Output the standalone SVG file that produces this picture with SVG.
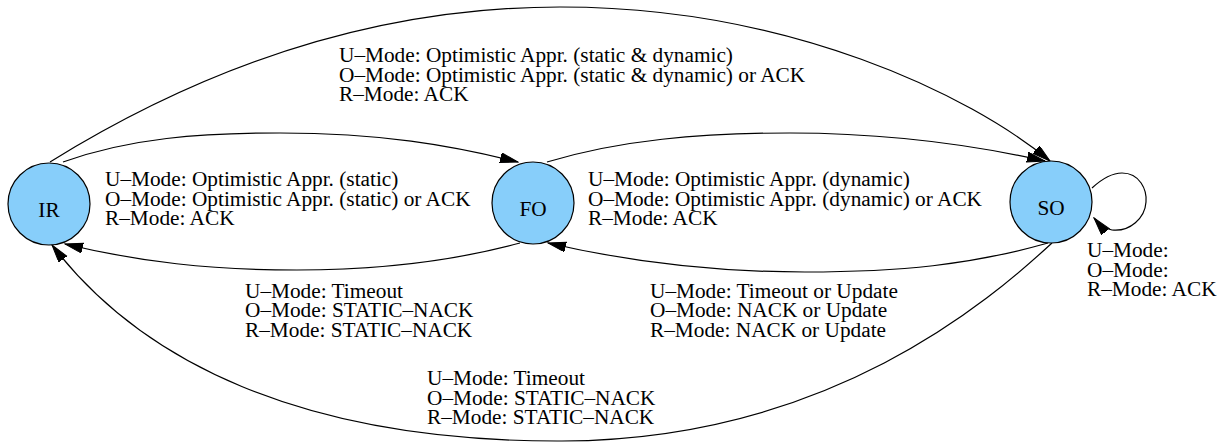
<svg xmlns="http://www.w3.org/2000/svg" width="1221" height="445" viewBox="0 0 1221 445" font-family="'Liberation Serif', 'DejaVu Serif', serif">
<style>
text, tspan { font-family: "Liberation Serif", "DejaVu Serif", serif; font-size: 21.3px; fill: #000; }
.node circle { fill: #87cefa; stroke: #000; stroke-width: 1.2; }
.node text { text-anchor: middle; }
.edge { fill: none; stroke: #000; stroke-width: 1.2; marker-end: url(#arr); }
</style>
<defs>
<marker id="arr" markerUnits="userSpaceOnUse" markerWidth="19" markerHeight="11" refX="18" refY="5" orient="auto" viewBox="0 0 19 11">
<path d="M0,0 L18,5 L0,10 z" fill="#000" stroke="#000" stroke-width="1"/>
</marker>
</defs>
<g id="connectors">
<path class="edge" d="M 50,162 C 150,100 330,7 560,7 C 790,7 970,95 1050,161"/>
<path class="edge" d="M 63,162 C 130,138 200,133 280,133 C 380,133 450,145 518,162"/>
<path class="edge" d="M 547,162 C 620,140 700,133 790,133 C 880,133 960,142 1045,161"/>
<path class="edge" d="M 520,243 C 450,262 380,270 297,270 C 210,270 140,262 65,244"/>
<path class="edge" d="M 1048,243 C 970,265 900,272 805,272 C 710,272 630,262 548,243"/>
<path class="edge" d="M 1052,243 C 990,300 830,440 562,441 C 300,442 140,360 52,245"/>
<path class="edge" d="M 1092,188 C 1105,176 1115,173 1122,173 C 1140,173 1147,190 1146,202 C 1145,218 1130,232 1112,230 C 1105,229 1099,224 1094,218"/>
</g>
<g id="labels">
<text x="339"><tspan x="339" y="62">U–Mode: Optimistic Appr. (static &amp; dynamic)</tspan><tspan x="339" y="81.6">O–Mode: Optimistic Appr. (static &amp; dynamic) or ACK</tspan><tspan x="339" y="101.2">R–Mode: ACK</tspan></text>
<text x="105"><tspan x="105" y="186">U–Mode: Optimistic Appr. (static)</tspan><tspan x="105" y="205.6">O–Mode: Optimistic Appr. (static) or ACK</tspan><tspan x="105" y="225.2">R–Mode: ACK</tspan></text>
<text x="588"><tspan x="588" y="186">U–Mode: Optimistic Appr. (dynamic)</tspan><tspan x="588" y="205.6">O–Mode: Optimistic Appr. (dynamic) or ACK</tspan><tspan x="588" y="225.2">R–Mode: ACK</tspan></text>
<text x="245"><tspan x="245" y="297.5">U–Mode: Timeout</tspan><tspan x="245" y="317.1">O–Mode: STATIC–NACK</tspan><tspan x="245" y="336.7">R–Mode: STATIC–NACK</tspan></text>
<text x="650"><tspan x="650" y="297.5">U–Mode: Timeout or Update</tspan><tspan x="650" y="317.1">O–Mode: NACK or Update</tspan><tspan x="650" y="336.7">R–Mode: NACK or Update</tspan></text>
<text x="427"><tspan x="427" y="385">U–Mode: Timeout</tspan><tspan x="427" y="404.6">O–Mode: STATIC–NACK</tspan><tspan x="427" y="424.2">R–Mode: STATIC–NACK</tspan></text>
<text x="1087"><tspan x="1087" y="257">U–Mode:</tspan><tspan x="1087" y="276.6">O–Mode:</tspan><tspan x="1087" y="296.2">R–Mode: ACK</tspan></text>
</g>
<g id="IR" class="node"><circle cx="49" cy="204" r="41"/><text x="49" y="217">IR</text></g>
<g id="FO" class="node"><circle cx="533" cy="203" r="41"/><text x="533" y="216">FO</text></g>
<g id="SO" class="node"><circle cx="1051" cy="202" r="41"/><text x="1051" y="215">SO</text></g>
</svg>
